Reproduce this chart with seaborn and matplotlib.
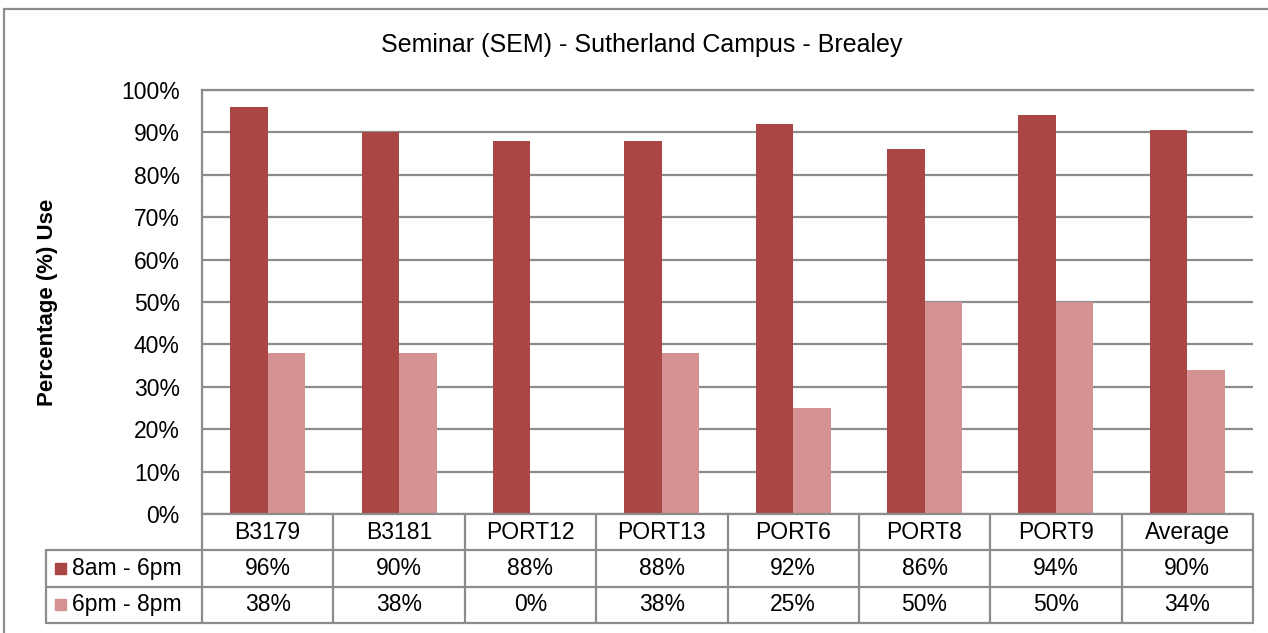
import matplotlib
matplotlib.use("Agg")
import matplotlib.pyplot as plt
import seaborn as sns
import pandas as pd
from matplotlib.patches import Rectangle
from matplotlib.lines import Line2D

categories = ["B3179", "B3181", "PORT12", "PORT13", "PORT6", "PORT8", "PORT9", "Average"]
series_names = ["8am - 6pm", "6pm - 8pm"]
day_values = [96, 90, 88, 88, 92, 86, 94, 90.5]
eve_values = [38, 38, 0, 38, 25, 50, 50, 34]
day_labels = ["96%", "90%", "88%", "88%", "92%", "86%", "94%", "90%"]
eve_labels = ["38%", "38%", "0%", "38%", "25%", "50%", "50%", "34%"]
yticks = [0, 10, 20, 30, 40, 50, 60, 70, 80, 90, 100]
colors = ["#AA4644", "#D49392"]

df = pd.DataFrame({
    "Room": categories * 2,
    "Period": [series_names[0]] * len(categories) + [series_names[1]] * len(categories),
    "Use": day_values + eve_values,
})

sns.set_theme(style="white")
plt.rcParams["font.family"] = ["Liberation Sans", "DejaVu Sans"]
plt.rcParams["text.color"] = "black"
plt.rcParams["axes.labelcolor"] = "black"
plt.rcParams["ytick.color"] = "black"

FS = 16.5
W, H = 1268, 633
fig = plt.figure(figsize=(W / 100, H / 100), dpi=100)
L, R, T, B = 202, 1253, 90, 514
ax = fig.add_axes([L / W, 1 - B / H, (R - L) / W, (B - T) / H])

sns.barplot(data=df, x="Room", y="Use", hue="Period", palette=colors,
            width=0.57, ax=ax, legend=False, saturation=1, linewidth=0)

ax.set_ylim(0, 100)
ax.set_xlim(-0.5, len(categories) - 0.5)
ax.set_yticks(yticks)
ax.set_yticklabels([f"{t}%" for t in yticks], fontsize=FS, color="black")
ax.tick_params(axis="y", length=0, pad=16)
ax.set_xticks([])
ax.set_xlabel("")
ax.set_ylabel("Percentage (%) Use", fontsize=16, fontweight="bold", color="black")
ax.yaxis.set_label_coords(-(L - 58) / (R - L), 0.5)
ax.grid(axis="y", color="#8C8C8C", linewidth=1.6)
ax.set_axisbelow(True)
for s in ["right", "bottom"]:
    ax.spines[s].set_visible(False)
for s in ["left", "top"]:
    ax.spines[s].set_color("#8C8C8C")
    ax.spines[s].set_linewidth(1.6)

fig.text(642 / W, 1 - 45 / H, "Seminar (SEM) - Sutherland Campus - Brealey",
         ha="center", va="center", fontsize=18, color="black")

# data table below the axes (axes coordinates)
ph = B - T
pw = R - L
rh = 36.3 / ph
n = len(categories)
lx = -(L - 46) / pw
gc = "#8C8C8C"
tr = ax.transAxes
lw = 1.6


def hline(y, x0, x1):
    ax.add_line(Line2D([x0, x1], [y, y], transform=tr, color=gc, lw=lw, clip_on=False))


def vline(x, y0, y1):
    ax.add_line(Line2D([x, x], [y0, y1], transform=tr, color=gc, lw=lw, clip_on=False))


hline(0, 0, 1)
hline(-rh, lx, 1)
hline(-2 * rh, lx, 1)
hline(-3 * rh, lx, 1)
for i in range(n + 1):
    vline(i / n, 0, -3 * rh)
vline(lx, -rh, -3 * rh)

for i, c in enumerate(categories):
    xc = (i + 0.5) / n
    ax.text(xc, -0.5 * rh, c, transform=tr, ha="center", va="center", fontsize=FS, color="black")
    ax.text(xc, -1.5 * rh, day_labels[i], transform=tr, ha="center", va="center", fontsize=FS, color="black")
    ax.text(xc, -2.5 * rh, eve_labels[i], transform=tr, ha="center", va="center", fontsize=FS, color="black")

for k, (name, col) in enumerate(zip(series_names, colors)):
    yc = -(1.5 + k) * rh
    sq = 11 / pw
    sqh = 11 / ph
    ax.add_patch(Rectangle((lx + 9 / pw, yc - sqh / 2), sq, sqh, transform=tr,
                           color=col, clip_on=False))
    ax.text(lx + 26 / pw, yc, name, transform=tr, ha="left", va="center", fontsize=FS, color="black")

# outer chart border
fig.add_artist(Rectangle((3.5 / W, -0.05), 1.2, 1 - 8.5 / H + 0.05, transform=fig.transFigure,
                         fill=False, edgecolor="#8C8C8C", lw=1.6))

fig.savefig("out.png", dpi=100)
